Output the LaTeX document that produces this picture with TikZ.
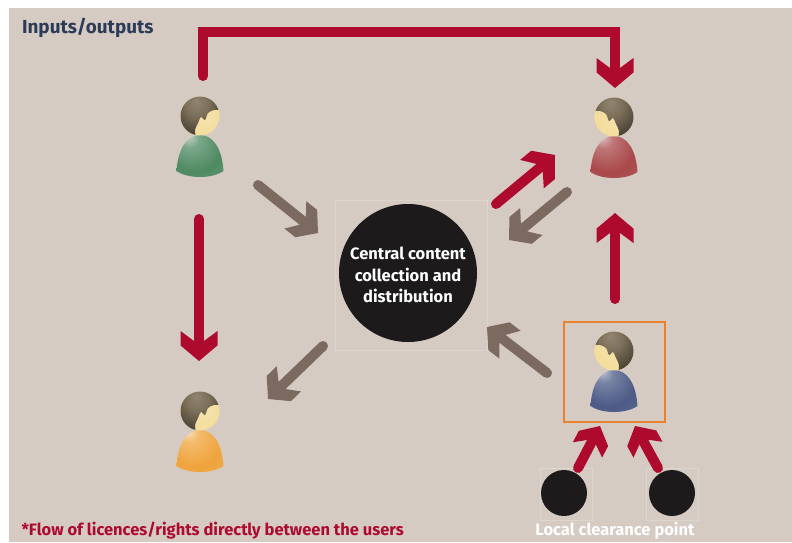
\documentclass[tikz,border=0pt]{standalone}
\usepackage{fontspec}
\setmainfont{Fira Sans}
\usetikzlibrary{arrows.meta}
\definecolor{panelbg}{HTML}{D5CBC3}
\definecolor{rightsred}{HTML}{AE0A2E}
\definecolor{contentbrown}{HTML}{7C6A60}
\definecolor{boxorange}{HTML}{E8822E}
\definecolor{hubblack}{HTML}{1C1A1A}
\definecolor{titlenavy}{HTML}{2C3B58}
\definecolor{faintline}{HTML}{DDD6CF}
\definecolor{bodygreen}{HTML}{4F8A62}
\definecolor{bodyred}{HTML}{A9484A}
\definecolor{bodyorange}{HTML}{EFA43C}
\definecolor{bodyblue}{HTML}{4C5A86}
\definecolor{hair}{HTML}{7D705A}
\definecolor{skin}{HTML}{F3DC98}
\colorlet{persontone}{bodyblue}
\pgfdeclareradialshading[persontone]{bodyglow}{\pgfpoint{-14bp}{26bp}}{color(0bp)=(persontone!30!white);
  color(10bp)=(persontone!75!white); color(28bp)=(persontone); color(50bp)=(persontone!85!white)}
\pgfdeclareradialshading{hairglow}{\pgfpoint{-4bp}{16bp}}{color(0bp)=(hair!85!white);
  color(12bp)=(hair); color(25bp)=(hair!65!black); color(38bp)=(hair!38!black); color(50bp)=(hair!30!black)}
\pgfdeclareradialshading{faceglow}{\pgfpoint{6bp}{0bp}}{color(0bp)=(skin!80!white);
  color(30bp)=(skin); color(50bp)=(skin!88!brown)}
\pgfdeclarearrow{
  name=Chevron,
  parameters={\the\pgfarrowlength,\the\pgfarrowwidth},
  setup code={
    \pgfarrowssettipend{0pt}
    \pgfarrowssetlineend{-.6\pgfarrowlength}
    \pgfarrowssetvisualbackend{-.6\pgfarrowlength}
    \pgfarrowssetbackend{-\pgfarrowlength}
    \pgfarrowssavethe\pgfarrowlength
    \pgfarrowssavethe\pgfarrowwidth
  },
  drawing code={
    \pgfpathmoveto{\pgfqpoint{0pt}{0pt}}
    \pgfpathlineto{\pgfpoint{-.52\pgfarrowlength}{.5\pgfarrowwidth}}
    \pgfpathlineto{\pgfpoint{-\pgfarrowlength}{.5\pgfarrowwidth}}
    \pgfpathlineto{\pgfpoint{-.68\pgfarrowlength}{.15\pgfarrowwidth}}
    \pgfpathlineto{\pgfpoint{-.68\pgfarrowlength}{-.15\pgfarrowwidth}}
    \pgfpathlineto{\pgfpoint{-\pgfarrowlength}{-.5\pgfarrowwidth}}
    \pgfpathlineto{\pgfpoint{-.52\pgfarrowlength}{-.5\pgfarrowwidth}}
    \pgfpathclose
    \pgfusepathqfill
  },
  defaults={length=29pt,width=34pt}
}
\tikzset{
  rightsflow/.style={rightsred,line width=10pt,line cap=round,
    -{Chevron[length=30pt,width=37pt]}},
  clearflow/.style={rightsred,line width=10pt,line cap=round,
    -{Chevron[length=27pt,width=33pt]}},
  contentflow/.style={contentbrown,line width=10pt,line cap=round,
    -{Chevron[length=29pt,width=35pt]}},
  ghostbox/.style={draw=faintline,line width=0.7pt},
  bigtext/.style={font=\bfseries\fontsize{16.5}{21.5}\selectfont},
  person/.pic={
    \colorlet{persontone}{#1}
    \path[shading=bodyglow] (-23.5,55) .. controls (-22,31) and (-12,19) .. (0,19)
      .. controls (12,19) and (22,31) .. (23.5,55)
      .. controls (12,63) and (-12,63) .. (-23.5,55) -- cycle;
    \begin{scope}
      \clip (0,0) circle (19.5);
      \path[shading=faceglow] (-20,-20) rectangle (20,20);
      \path[shading=hairglow] plot[smooth] coordinates {(21,-6) (14,-6) (8,-3) (5,4) (1,1) (-2,7) (-5,14) (-4,22)}
        -- (-24,24) -- (-24,-24) -- (24,-24) -- cycle;
    \end{scope}
  },
}
\begin{document}
\begin{tikzpicture}[x=1pt,y=-1pt]
  \useasboundingbox (0,0) rectangle (792,542);
  \fill[panelbg] (9,8) rectangle (792,542);
  % faint frames
  \node[ghostbox,minimum width=152pt,minimum height=150pt] (hubframe) at (411,275) {};
  \node[ghostbox,minimum width=52pt,minimum height=52pt] (leftframe) at (566,494) {};
  \node[ghostbox,minimum width=52pt,minimum height=52pt] (rightframe) at (672,494) {};
  % hub and clearance points
  \node[circle,fill=hubblack,minimum size=138pt,inner sep=0pt] (hub) at (408,273) {};
  \node[bigtext,white,align=center] (hublabel) at (408,275) {Central content\\collection and\\distribution};
  \node[circle,fill=hubblack,minimum size=46pt,inner sep=0pt] (leftpoint) at (564,493) {};
  \node[circle,fill=hubblack,minimum size=46pt,inner sep=0pt] (rightpoint) at (672,493) {};
  \node[draw=boxorange,line width=2pt,minimum width=101pt,minimum height=100pt] (localbox) at (614,372) {};
  % users
  \coordinate (usergreen) at (200,116);
  \coordinate (userred) at (614,117);
  \coordinate (userorange) at (200,411);
  \coordinate (userblue) at (614,351);
  \pic at (usergreen) {person=bodygreen};
  \pic[xscale=-1] at (userred) {person=bodyred};
  \pic at (userorange) {person=bodyorange};
  \pic[xscale=-1] at (userblue) {person=bodyblue};
  % arrow ends
  \coordinate (topstart) at (203,76);
  \coordinate (topcorner) at (203,32);
  \coordinate (topend) at (615,88);
  \coordinate (downstart) at (199,219);
  \coordinate (downend) at (199,361);
  \coordinate (upstart) at (615,299);
  \coordinate (upend) at (615,213);
  \coordinate (hubred) at (496,204);
  \coordinate (redtip) at (555,155);
  \coordinate (redback) at (567,192);
  \coordinate (hubback) at (509,240);
  \coordinate (greenout) at (258,185);
  \coordinate (greenin) at (318,233);
  \coordinate (blueout) at (547,373);
  \coordinate (bluein) at (487,327);
  \coordinate (hubout) at (323,346);
  \coordinate (orangein) at (268,399);
  \coordinate (leftout) at (578,468);
  \coordinate (lefttip) at (600,426);
  \coordinate (rightout) at (658,468);
  \coordinate (righttip) at (635,426);
  % rights
  \draw[rightsflow] (topstart) -- (topcorner) -- (topcorner -| topend) -- (topend);
  \draw[rightsflow] (downstart) -- (downend);
  \draw[rightsflow] (upstart) -- (upend);
  \draw[rightsflow] (hubred) -- (redtip);
  \draw[clearflow] (leftout) -- (lefttip);
  \draw[clearflow] (rightout) -- (righttip);
  % content
  \draw[contentflow] (greenout) -- (greenin);
  \draw[contentflow] (redback) -- (hubback);
  \draw[contentflow] (blueout) -- (bluein);
  \draw[contentflow] (hubout) -- (orangein);
  % texts
  \node[titlenavy,anchor=west,font=\bfseries\fontsize{18.9}{22}\selectfont] (title) at (18.5,28) {Inputs/outputs};
  \node[rightsred,anchor=west,font=\bfseries\fontsize{16.5}{20}\selectfont] (footnote) at (18,531) {*Flow of licences/rights directly between the users};
  \node[white,font=\bfseries\fontsize{16.5}{20}\selectfont] (pointlabel) at (615,531) {Local clearance point};
\end{tikzpicture}
\end{document}
